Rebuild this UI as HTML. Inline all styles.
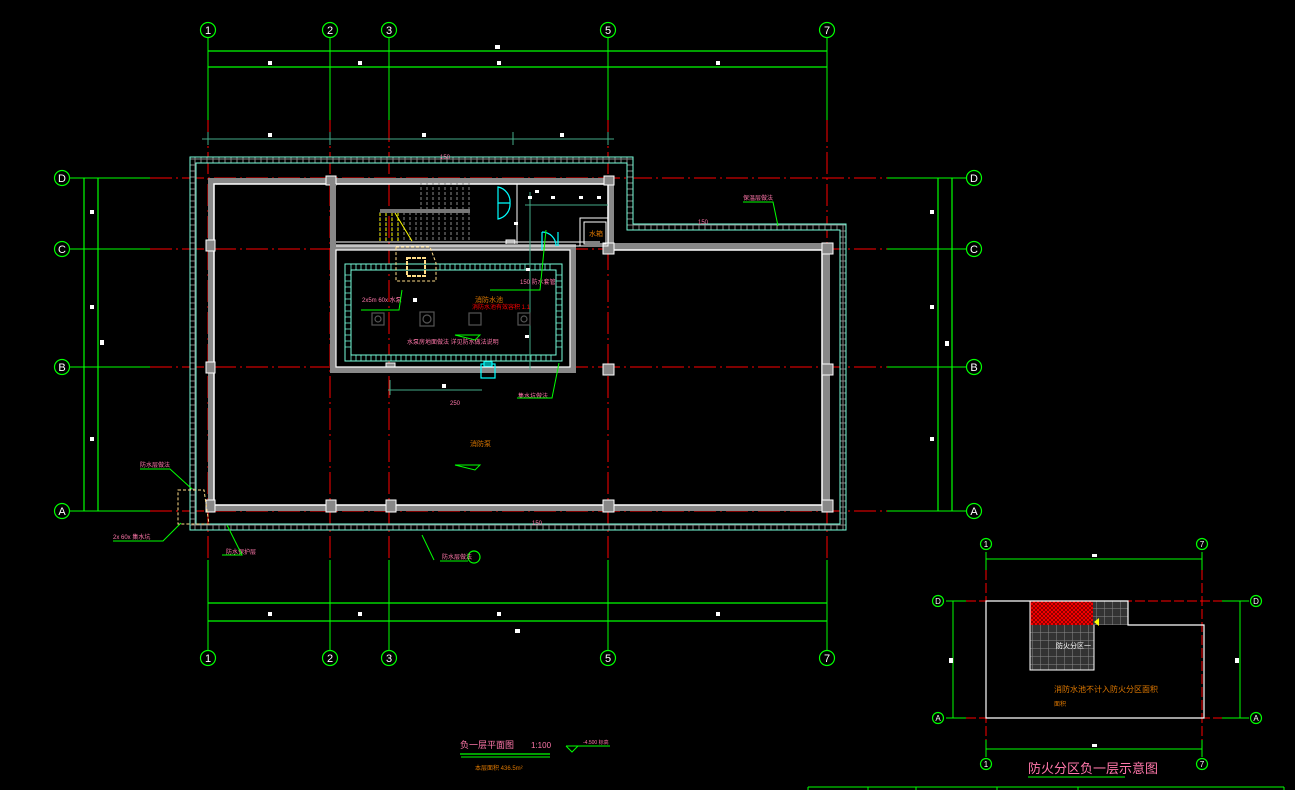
<!DOCTYPE html>
<html><head><meta charset="utf-8"><style>
html,body{margin:0;padding:0;background:#000;}
svg{display:block;}
text{font-family:"Liberation Sans","Noto Sans CJK SC",sans-serif;}
</style></head><body>
<svg width="1295" height="790" viewBox="0 0 1295 790" xmlns="http://www.w3.org/2000/svg">
<defs>
<pattern id="hx" width="6" height="6" patternUnits="userSpaceOnUse"><rect width="6" height="6" fill="#000"/><path d="M0 3h6M3 0v6" stroke="#888" stroke-width="1"/></pattern>
<pattern id="hy" width="6" height="6" patternUnits="userSpaceOnUse"><rect width="6" height="6" fill="#000"/><path d="M1 1h4v4h-4z" stroke="#888" stroke-width="0.8" fill="none"/></pattern>
<pattern id="rd" width="4" height="4" patternUnits="userSpaceOnUse"><rect width="4" height="4" fill="#600"/><path d="M0 0l4 4M4 0l-4 4" stroke="#f00" stroke-width="1"/></pattern>
<pattern id="gg" width="8" height="8" patternUnits="userSpaceOnUse"><rect width="8" height="8" fill="#333"/><path d="M0 0h8M0 0v8" stroke="#888" stroke-width="1"/></pattern>
</defs>
<rect width="1295" height="790" fill="#000"/>

<!-- grid lines verticals green + red dashed -->
<g stroke="#0f0" stroke-width="1">
<line x1="208" y1="38" x2="208" y2="120"/><line x1="330" y1="38" x2="330" y2="120"/><line x1="389" y1="38" x2="389" y2="120"/><line x1="608" y1="38" x2="608" y2="120"/><line x1="827" y1="38" x2="827" y2="120"/>
<line x1="208" y1="560" x2="208" y2="650"/><line x1="330" y1="560" x2="330" y2="650"/><line x1="389" y1="560" x2="389" y2="650"/><line x1="608" y1="560" x2="608" y2="650"/><line x1="827" y1="560" x2="827" y2="650"/>
<line x1="70" y1="178" x2="150" y2="178"/><line x1="70" y1="249" x2="150" y2="249"/><line x1="70" y1="367" x2="150" y2="367"/><line x1="70" y1="511" x2="150" y2="511"/>
<line x1="887" y1="178" x2="966" y2="178"/><line x1="887" y1="249" x2="966" y2="249"/><line x1="887" y1="367" x2="966" y2="367"/><line x1="887" y1="511" x2="966" y2="511"/>
</g>
<g stroke="#f00" stroke-width="1" stroke-dasharray="22 4 2 4">
<line x1="208" y1="120" x2="208" y2="560"/><line x1="330" y1="120" x2="330" y2="560"/><line x1="389" y1="120" x2="389" y2="560"/><line x1="608" y1="120" x2="608" y2="560"/><line x1="827" y1="120" x2="827" y2="560"/>
<line x1="150" y1="178" x2="887" y2="178"/><line x1="150" y1="249" x2="887" y2="249"/><line x1="150" y1="367" x2="887" y2="367"/><line x1="150" y1="511" x2="887" y2="511"/>
</g>

<!-- dimension lines -->
<g stroke="#0f0" stroke-width="1.2">
<line x1="208" y1="51" x2="827" y2="51"/><line x1="208" y1="67" x2="827" y2="67"/>
<line x1="208" y1="603" x2="827" y2="603"/><line x1="208" y1="621" x2="827" y2="621"/>
<line x1="84" y1="178" x2="84" y2="511"/><line x1="98" y1="178" x2="98" y2="511"/>
<line x1="938" y1="178" x2="938" y2="511"/><line x1="952" y1="178" x2="952" y2="511"/>
</g>
<g stroke="#4a8" stroke-width="1"><line x1="202" y1="139" x2="614" y2="139"/><line x1="208" y1="132" x2="208" y2="145"/><line x1="330" y1="132" x2="330" y2="145"/><line x1="513" y1="132" x2="513" y2="145"/><line x1="608" y1="132" x2="608" y2="145"/></g>
<g fill="#fff" font-size="6">
<rect x="495" y="45" width="5" height="4"/><rect x="268" y="61" width="4" height="4"/><rect x="358" y="61" width="4" height="4"/><rect x="497" y="61" width="4" height="4"/><rect x="716" y="61" width="4" height="4"/>
<rect x="268" y="133" width="4" height="4"/><rect x="422" y="133" width="4" height="4"/><rect x="560" y="133" width="4" height="4"/>
<rect x="268" y="612" width="4" height="4"/><rect x="358" y="612" width="4" height="4"/><rect x="497" y="612" width="4" height="4"/><rect x="716" y="612" width="4" height="4"/><rect x="515" y="629" width="5" height="4"/>
<rect x="90" y="210" width="4" height="4"/><rect x="90" y="305" width="4" height="4"/><rect x="90" y="437" width="4" height="4"/><rect x="100" y="340" width="4" height="5"/>
<rect x="930" y="210" width="4" height="4"/><rect x="930" y="305" width="4" height="4"/><rect x="930" y="437" width="4" height="4"/><rect x="945" y="341" width="4" height="5"/>
</g>

<!-- bubbles -->
<g fill="none" stroke="#0f0" stroke-width="1.2">
<circle cx="208" cy="30" r="7.5"/><circle cx="330" cy="30" r="7.5"/><circle cx="389" cy="30" r="7.5"/><circle cx="608" cy="30" r="7.5"/><circle cx="827" cy="30" r="7.5"/>
<circle cx="208" cy="658" r="7.5"/><circle cx="330" cy="658" r="7.5"/><circle cx="389" cy="658" r="7.5"/><circle cx="608" cy="658" r="7.5"/><circle cx="827" cy="658" r="7.5"/>
<circle cx="62" cy="178" r="7.5"/><circle cx="62" cy="249" r="7.5"/><circle cx="62" cy="367" r="7.5"/><circle cx="62" cy="511" r="7.5"/>
<circle cx="974" cy="178" r="7.5"/><circle cx="974" cy="249" r="7.5"/><circle cx="974" cy="367" r="7.5"/><circle cx="974" cy="511" r="7.5"/>
<circle cx="474" cy="557" r="6"/>
</g>
<g fill="#fff" font-size="11" text-anchor="middle">
<text x="208" y="34">1</text><text x="330" y="34">2</text><text x="389" y="34">3</text><text x="608" y="34">5</text><text x="827" y="34">7</text>
<text x="208" y="662">1</text><text x="330" y="662">2</text><text x="389" y="662">3</text><text x="608" y="662">5</text><text x="827" y="662">7</text>
<text x="62" y="182">D</text><text x="62" y="253">C</text><text x="62" y="371">B</text><text x="62" y="515">A</text>
<text x="974" y="182">D</text><text x="974" y="253">C</text><text x="974" y="371">B</text><text x="974" y="515">A</text>
</g>

<!-- outer hatched waterproof band -->
<path d="M190 157H633V224H846V530H190Z M196 163V524H840V230H627V163Z" fill="url(#hx)" fill-rule="evenodd"/>
<path d="M190 157H633V224H846V530H190Z M196 163H627V230H840V524H196Z" fill="none" stroke="#7fd" stroke-width="1"/>

<!-- main walls gray -->
<path d="M208 178H614V243H830V511H208Z M214 184V505H822V250H608V184Z" fill="#888" fill-rule="evenodd"/>
<path d="M214 184H608V250H822V505H214Z" fill="none" stroke="#fff" stroke-width="1.5"/>
<!-- columns -->
<g fill="#888" stroke="#fff" stroke-width="1">
<rect x="206" y="240" width="9" height="11"/><rect x="206" y="362" width="9" height="11"/><rect x="206" y="500" width="9" height="12"/>
<rect x="326" y="500" width="10" height="12"/><rect x="386" y="500" width="10" height="12"/><rect x="603" y="500" width="11" height="12"/><rect x="822" y="500" width="11" height="12"/>
<rect x="603" y="243" width="11" height="11"/><rect x="822" y="243" width="11" height="11"/><rect x="603" y="364" width="11" height="11"/><rect x="822" y="364" width="11" height="11"/>
<rect x="326" y="176" width="10" height="9"/><rect x="604" y="176" width="10" height="9"/><rect x="506" y="240" width="9" height="9"/><rect x="386" y="363" width="9" height="9"/>
</g>
<!-- inner room walls 2-3 C-B -->
<path d="M330 184H336V244H576V373H330Z M336 250V367H570V250Z" fill="#888" fill-rule="evenodd"/>
<path d="M336 250H570V367H336Z" fill="none" stroke="#fff" stroke-width="1.2"/>
<line x1="336" y1="242" x2="600" y2="242" stroke="#fff" stroke-width="1"/>
<line x1="336" y1="246" x2="600" y2="246" stroke="#fff" stroke-width="1"/>
<line x1="517" y1="184" x2="517" y2="244" stroke="#fff" stroke-width="1"/>
<!-- inner teal hatched -->
<path d="M345 264H562V361H345Z M351 270V355H556V270Z" fill="#000" fill-rule="evenodd"/>
<path d="M345 264H562V361H345Z M351 270H556V355H351Z" fill="none" stroke="#7fd" stroke-width="1"/>
<g stroke="#7fd" stroke-width="0.8">
<path d="M351 264v6M356 264v6M361 264v6M366 264v6M371 264v6M376 264v6M381 264v6M386 264v6M391 264v6M440 264v6M445 264v6M450 264v6M455 264v6M460 264v6M465 264v6M470 264v6M475 264v6M480 264v6M485 264v6M490 264v6M495 264v6M500 264v6M505 264v6M510 264v6M515 264v6M520 264v6M525 264v6M530 264v6M535 264v6M540 264v6M545 264v6M550 264v6"/>
<path d="M351 355v6M356 355v6M361 355v6M366 355v6M371 355v6M376 355v6M381 355v6M386 355v6M391 355v6M396 355v6M401 355v6M406 355v6M411 355v6M416 355v6M421 355v6M426 355v6M431 355v6M436 355v6M441 355v6M446 355v6M451 355v6M456 355v6M461 355v6M466 355v6M471 355v6M476 355v6M481 355v6M486 355v6M491 355v6M496 355v6M501 355v6M506 355v6M511 355v6M516 355v6M521 355v6M526 355v6M531 355v6M536 355v6M541 355v6M546 355v6M551 355v6"/>
<path d="M345 275h6M345 281h6M345 287h6M345 293h6M345 299h6M345 305h6M345 311h6M345 317h6M345 323h6M345 329h6M345 335h6M345 341h6M345 347h6"/>
<path d="M556 275h6M556 281h6M556 287h6M556 293h6M556 299h6M556 305h6M556 311h6M556 317h6M556 323h6M556 329h6M556 335h6M556 341h6M556 347h6"/>
</g>
<!-- stair -->
<g stroke="#888" stroke-width="1" stroke-dasharray="3 2">
<path d="M421 182v60M427 182v60M433 182v60M439 182v60M445 182v60M451 182v60M457 182v60M463 182v60M469 182v60"/>
<path d="M380 212v30M386 212v30M392 212v30M398 212v30M404 212v30M410 212v30M416 212v30"/>
</g>
<rect x="380" y="209" width="90" height="4" fill="#777"/>
<path d="M380 213v28M386 213v28M392 213v28M398 213v28" stroke="#ff0" stroke-dasharray="3 2" stroke-width="1"/>
<path d="M395 213l17 28" stroke="#ff0" stroke-width="1"/>
<path d="M396 247h34l6 16v18h-40z" fill="none" stroke="#fd8" stroke-dasharray="3 2" stroke-width="1"/>
<rect x="407" y="258" width="18" height="18" fill="none" stroke="#fd8" stroke-width="2" stroke-dasharray="4 1"/>
<!-- doors cyan -->
<g fill="none" stroke="#0ff" stroke-width="1.2">
<path d="M510 203a15 15 0 0 0-12-16v16z"/><path d="M510 203a15 15 0 0 1-12 16v-16"/>
<path d="M542 232v18M542 232a14 14 0 0 1 14 14M558 232v14"/>
<rect x="481" y="364" width="14" height="14"/><rect x="484" y="362" width="8" height="4"/>
</g>
<path d="M580 218h28v28h-28z M584 222h22v22h-22z" fill="none" stroke="#fff" stroke-width="1"/>
<text x="589" y="236" font-size="7" fill="#d70">水箱</text>
<g stroke="#4a8" stroke-width="1"><line x1="525" y1="205" x2="608" y2="205"/><line x1="530" y1="192" x2="530" y2="370"/><line x1="388" y1="390" x2="482" y2="390"/><line x1="390" y1="380" x2="390" y2="395"/></g>
<g fill="#fff"><rect x="528" y="196" width="4" height="3"/><rect x="551" y="196" width="4" height="3"/><rect x="579" y="196" width="4" height="3"/><rect x="597" y="196" width="4" height="3"/><rect x="514" y="222" width="4" height="3"/><rect x="526" y="268" width="4" height="3"/><rect x="413" y="298" width="4" height="4"/><rect x="525" y="335" width="4" height="3"/><rect x="535" y="190" width="4" height="3"/><rect x="442" y="384" width="4" height="4"/></g>
<!-- pumps -->
<g fill="none" stroke="#555" stroke-width="1.2"><rect x="372" y="313" width="12" height="12"/><rect x="420" y="312" width="14" height="14"/><rect x="469" y="313" width="12" height="12"/><rect x="518" y="313" width="12" height="12"/><circle cx="378" cy="319" r="3"/><circle cx="427" cy="319" r="4"/><circle cx="524" cy="319" r="3"/></g>
<!-- labels -->
<g font-size="6" fill="#f7a">
<text x="440" y="159">150</text><text x="743" y="200">保温层做法</text><text x="698" y="224">150</text>
<text x="362" y="302">2x5m 60x 水泵</text><text x="472" y="309" fill="#f00">消防水池有效容积 1.1</text><text x="475" y="302" fill="#d70" font-size="7">消防水池</text>
<text x="407" y="344">水泵房地面做法 详见防水做法说明</text><text x="520" y="284">150 防水套管</text>
<text x="450" y="405">250</text><text x="518" y="398">集水坑做法</text><text x="140" y="467">防水层做法</text><text x="113" y="539">2x 60x 集水坑</text>
<text x="226" y="554">防水保护层</text><text x="442" y="559">防水层做法</text><text x="532" y="525">150</text>
<text x="470" y="446" fill="#d70" font-size="7">消防泵</text>
</g>
<g stroke="#0f0" stroke-width="1" fill="none">
<path d="M455 335h25l-5 5z"/><path d="M455 465h25l-5 5z"/>
<path d="M361 310h38l3-20"/><path d="M490 290h50l6-60"/><path d="M517 398h35l7-35"/>
<path d="M140 469h30l22 20"/><path d="M113 541h50l18-18"/><path d="M222 555h20l-15-30"/><path d="M440 561h28"/><path d="M422 535l12 25"/>
<path d="M743 202h30l5 24"/>
</g>
<path d="M178 490h26l5 34h-31z" fill="none" stroke="#fd8" stroke-dasharray="3 2" stroke-width="1"/>

<!-- title -->
<text x="460" y="748" font-size="9" fill="#f7a" font-family="Liberation Sans,Noto Sans CJK SC,sans-serif">负一层平面图</text>
<text x="531" y="748" font-size="8" fill="#f7a">1:100</text>
<line x1="460" y1="754" x2="550" y2="754" stroke="#0f0" stroke-width="1.2"/><line x1="461" y1="757" x2="550" y2="757" stroke="#0f0" stroke-width="1"/>
<text x="475" y="770" font-size="6" fill="#d70">本层面积  436.5m²</text>
<path d="M566 746h44M566 746l6 6 6-6" stroke="#0f0" fill="none" stroke-width="1"/><text x="583" y="744" font-size="5" fill="#f7a">-4.500 标高</text>

<!-- key plan -->
<g stroke="#0f0" stroke-width="1">
<line x1="986" y1="552" x2="986" y2="570"/><line x1="1202" y1="552" x2="1202" y2="570"/>
<line x1="986" y1="740" x2="986" y2="757"/><line x1="1202" y1="740" x2="1202" y2="757"/>
<line x1="946" y1="601" x2="966" y2="601"/><line x1="946" y1="718" x2="966" y2="718"/>
<line x1="1222" y1="601" x2="1249" y2="601"/><line x1="1222" y1="718" x2="1249" y2="718"/>
<line x1="986" y1="559" x2="1202" y2="559"/><line x1="986" y1="749" x2="1202" y2="749"/>
<line x1="953" y1="601" x2="953" y2="718"/><line x1="1240" y1="601" x2="1240" y2="718"/>
</g>
<g stroke="#f00" stroke-width="1" stroke-dasharray="10 3"><line x1="986" y1="570" x2="986" y2="740"/><line x1="1202" y1="570" x2="1202" y2="740"/><line x1="966" y1="601" x2="1222" y2="601"/><line x1="966" y1="718" x2="1222" y2="718"/></g>
<g fill="none" stroke="#0f0" stroke-width="1.2"><circle cx="986" cy="544" r="5.5"/><circle cx="1202" cy="544" r="5.5"/><circle cx="986" cy="764" r="5.5"/><circle cx="1202" cy="764" r="5.5"/><circle cx="938" cy="601" r="5.5"/><circle cx="938" cy="718" r="5.5"/><circle cx="1256" cy="601" r="5.5"/><circle cx="1256" cy="718" r="5.5"/></g>
<g fill="#fff" font-size="8" text-anchor="middle"><text x="986" y="547">1</text><text x="1202" y="547">7</text><text x="986" y="767">1</text><text x="1202" y="767">7</text><text x="938" y="604">D</text><text x="938" y="721">A</text><text x="1256" y="604">D</text><text x="1256" y="721">A</text></g>
<rect x="1030" y="601" width="98" height="24" fill="url(#gg)"/>
<rect x="1030" y="625" width="64" height="45" fill="url(#gg)"/>
<rect x="1030" y="601" width="63" height="24" fill="url(#rd)"/>
<path d="M986 601H1128V625H1204V718H986Z" fill="none" stroke="#fff" stroke-width="1.2"/>
<path d="M1030 601V670H1094V625" fill="none" stroke="#fff" stroke-width="1"/>
<path d="M1094 622l5-4v8z" fill="#ff0"/>
<rect x="949" y="658" width="4" height="5" fill="#fff"/><rect x="1235" y="658" width="4" height="5" fill="#fff"/><rect x="1092" y="554" width="5" height="3" fill="#fff"/><rect x="1092" y="744" width="5" height="3" fill="#fff"/>
<text x="1056" y="648" font-size="7" fill="#fff">防火分区一</text>
<text x="1054" y="692" font-size="8" fill="#d70">消防水池不计入防火分区面积</text>
<text x="1054" y="706" font-size="6" fill="#d70">面积</text>
<text x="1028" y="773" font-size="13" fill="#f7a">防火分区负一层示意图</text>
<line x1="1028" y1="777" x2="1125" y2="777" stroke="#0f0" stroke-width="1"/>
<g stroke="#0f0" stroke-width="1"><line x1="808" y1="787" x2="1284" y2="787"/><line x1="808" y1="787" x2="808" y2="790"/><line x1="868" y1="787" x2="868" y2="790"/><line x1="916" y1="787" x2="916" y2="790"/><line x1="997" y1="787" x2="997" y2="790"/><line x1="1078" y1="787" x2="1078" y2="790"/><line x1="1284" y1="787" x2="1284" y2="790"/></g>
</svg>
</body></html>
